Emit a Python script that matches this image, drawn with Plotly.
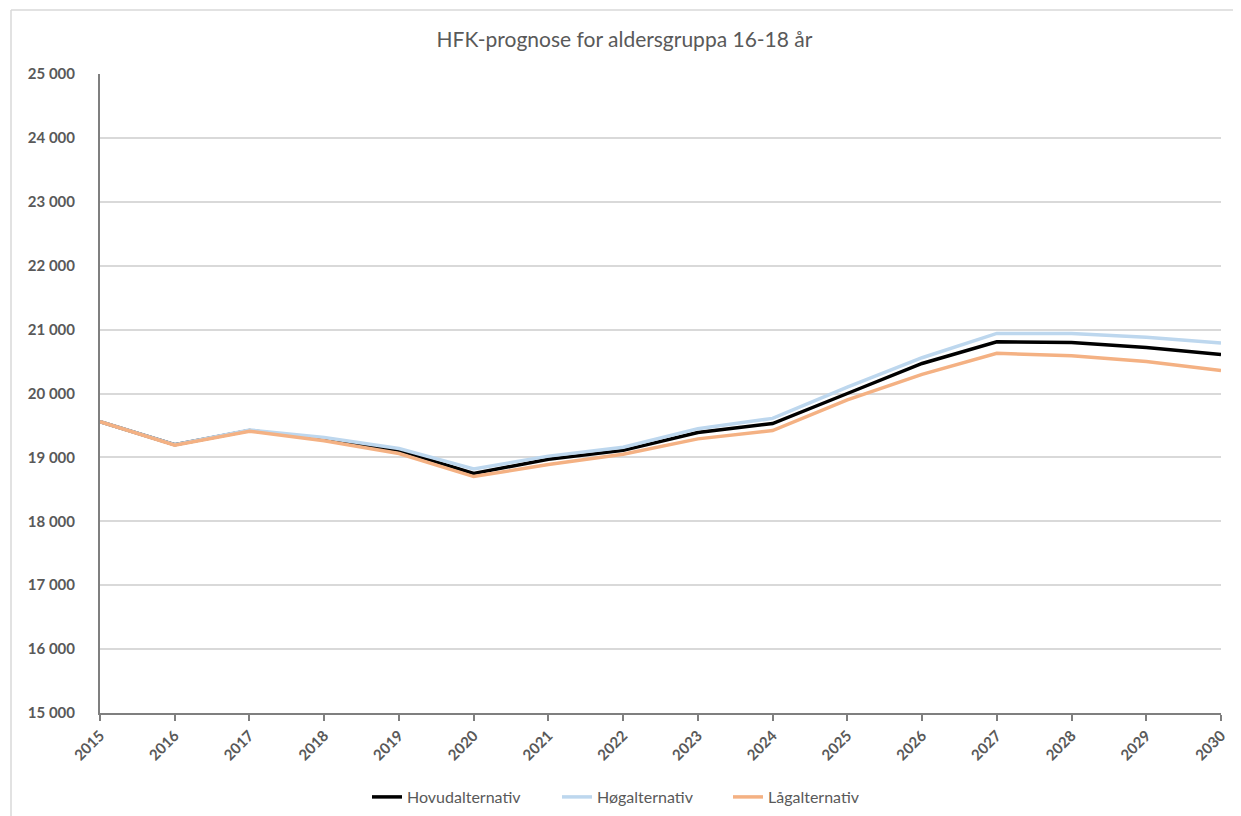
import plotly.graph_objects as go

# Data
years = list(range(2015, 2031))
hovud = [19560, 19200, 19420, 19280, 19110, 18750, 18970, 19110, 19390, 19530,
         20000, 20470, 20810, 20800, 20720, 20610]
hog = [19560, 19200, 19430, 19310, 19140, 18820, 19020, 19160, 19450, 19610,
       20100, 20560, 20940, 20940, 20880, 20790]
lag = [19560, 19190, 19410, 19260, 19060, 18700, 18890, 19050, 19290, 19420,
       19900, 20300, 20630, 20590, 20500, 20360]
y_ticks = list(range(15000, 25001, 1000))
y_labels = [f"{v // 1000} 000" for v in y_ticks]

font = "Lato, 'Open Sans', sans-serif"
grey = "#595959"

# page body adds ~8px offset, so figure is sized a bit smaller
W, H = 1233, 808
PW, PH = 1121, 639

series = [("Hovudalternativ", hovud, "#000000", "legend", 367),
          ("Høgalternativ", hog, "#bdd7ee", "legend2", 557),
          ("Lågalternativ", lag, "#f4b183", "legend3", 728)]

fig = go.Figure()
legends = {}
for name, vals, col, leg, px in series:
    fig.add_trace(go.Scatter(x=years, y=vals, name=name, mode="lines", legend=leg,
                             line=dict(color=col, width=3.5)))
    # one legend per series so the spacing can follow the original
    legends[leg] = dict(orientation="h", x=(px - 100) / PW, xanchor="left",
                        y=-84 / PH, yanchor="middle", bgcolor="rgba(0,0,0,0)",
                        font=dict(size=16, color=grey), itemwidth=30)

fig.update_layout(
    width=W, height=H,
    margin=dict(l=92, r=20, t=66, b=103, autoexpand=False),
    paper_bgcolor="white", plot_bgcolor="white",
    font=dict(family=font, color=grey),
    title=dict(text="HFK-prognose for aldersgruppa 16-18 år", x=0.5, xanchor="center",
               y=1 - 32 / H, yanchor="middle", font=dict(size=21, color=grey)),
    showlegend=True,
    **legends,
)
fig.update_xaxes(
    range=[2015, 2030], tickmode="array", tickvals=years, ticktext=[str(y) for y in years],
    tickangle=-45, tickfont=dict(size=15, color=grey, family=font, weight="bold"),
    showgrid=False, showline=True, linecolor="#7f7f7f", linewidth=2,
    ticks="outside", ticklen=6, tickcolor="#7f7f7f", tickwidth=1.5, zeroline=False,
)
fig.update_yaxes(
    range=[15000, 25000], tickmode="array", tickvals=y_ticks, ticktext=y_labels,
    tickfont=dict(size=15, color=grey, family=font, weight="bold"),
    showgrid=True, gridcolor="#d9d9d9", gridwidth=1.5,
    showline=True, linecolor="#7f7f7f", linewidth=2, zeroline=False, ticklabelstandoff=20,
)
# outer chart border (only top and left edges fall inside the picture)
bx, by = -89 / PW, 1 + 64 / PH
fig.add_shape(type="line", xref="paper", yref="paper", x0=bx, x1=1.2, y0=by, y1=by,
              line=dict(color="#d9d9d9", width=1.5))
fig.add_shape(type="line", xref="paper", yref="paper", x0=bx, x1=bx, y0=by, y1=-0.3,
              line=dict(color="#d9d9d9", width=1.5))

fig.write_html("out.html")
